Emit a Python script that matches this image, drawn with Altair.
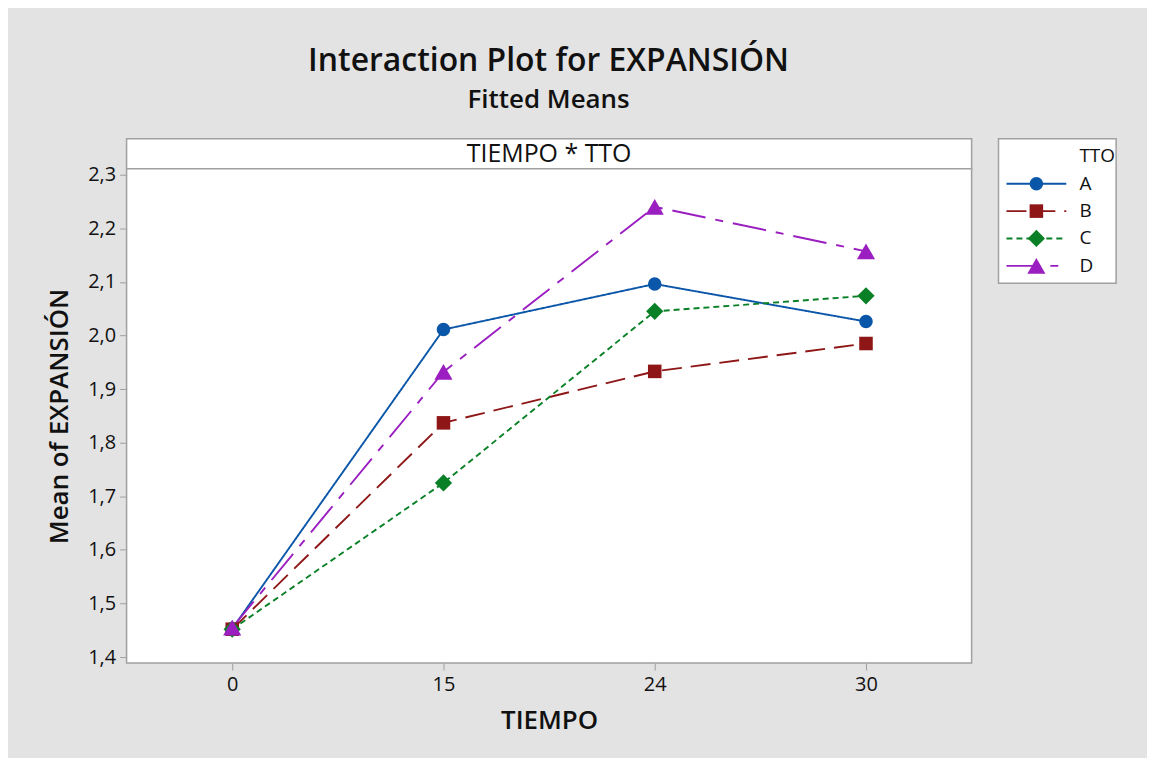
import altair as alt
import pandas as pd

tiempo = ["0", "15", "24", "30"]
tto = ["A", "B", "C", "D"]
vals_A = [1.453, 2.011, 2.096, 2.026]
vals_B = [1.452, 1.837, 1.933, 1.985]
vals_C = [1.452, 1.725, 2.045, 2.074]
vals_D = [1.455, 1.932, 2.240, 2.157]
y_ticks = [1.4, 1.5, 1.6, 1.7, 1.8, 1.9, 2.0, 2.1, 2.2, 2.3]

colors = ["#0a56a8", "#8e1616", "#0a8026", "#9a1ec0"]
shapes = ["circle", "square", "diamond", "triangle-up"]
sizes = [185, 185, 300, 330]
dashes = [[1, 0], [20, 9], [6, 4], [34, 10, 8, 10]]
legend_dashes = [[1, 0], [20, 9], [6, 4], [22, 8, 8, 8]]

FONT = "Open Sans"
BG = "#e3e3e3"
GRID = "#a0a0a0"

rows = []
for name, vals in zip(tto, [vals_A, vals_B, vals_C, vals_D]):
    for t, v in zip(tiempo, vals):
        rows.append({"TIEMPO": t, "TTO": name, "value": v})
df = pd.DataFrame(rows)

W, H = 848, 496

color_sc = alt.Scale(domain=tto, range=colors)
dash_sc = alt.Scale(domain=tto, range=dashes)

x_enc = alt.X("TIEMPO:O", sort=tiempo, scale=alt.Scale(padding=0.5),
              axis=alt.Axis(title="TIEMPO", labelAngle=0, domain=False,
                            tickColor=GRID, tickSize=7, labelFontSize=20,
                            labelColor="#111", labelPadding=5,
                            titleFontSize=26, titleFontWeight=600,
                            titlePadding=13, titleColor="#111"))
y_enc = alt.Y("value:Q", scale=alt.Scale(domain=[1.389, 2.311], nice=False, zero=False),
              axis=alt.Axis(title="Mean of EXPANSIÓN", values=y_ticks, grid=False,
                            domain=False, tickColor=GRID, tickSize=7,
                            labelExpr="replace(format(datum.value, '.1f'), '.', ',')",
                            labelFontSize=20, labelColor="#111", labelPadding=4,
                            titleFontSize=26, titleFontWeight=600,
                            titlePadding=15, titleColor="#111"))

lines = alt.Chart(df).mark_line(strokeWidth=1.9).encode(
    x=x_enc, y=y_enc,
    color=alt.Color("TTO:N", scale=color_sc, legend=None),
    strokeDash=alt.StrokeDash("TTO:N", scale=dash_sc, legend=None),
    detail="TTO:N",
)
point_layers = []
for name, col, shp, sz in zip(tto, colors, shapes, sizes):
    point_layers.append(
        alt.Chart(df).transform_filter(alt.datum.TTO == name)
        .mark_point(filled=True, opacity=1, shape=shp, size=sz, color=col)
        .encode(x=alt.X("TIEMPO:O", sort=tiempo), y="value:Q")
    )
main = alt.layer(lines, *point_layers).properties(width=W, height=H)

header_df = pd.DataFrame({"label": ["TIEMPO * TTO"]})
header = alt.Chart(header_df).mark_text(font=FONT, fontSize=25, color="#111",
                                         baseline="middle").encode(
    x=alt.value(W / 2), y=alt.value(15), text="label:N"
).properties(width=W, height=30)

left = alt.vconcat(header, main, spacing=0, bounds="flush")

# legend
leg_line = pd.DataFrame([{"TTO": t, "lx": lx} for t in tto for lx in [0.0, 1.0]])
leg_pt = pd.DataFrame([{"TTO": t, "lx": 0.5} for t in tto])
leg_txt = pd.DataFrame([{"TTO": t, "lx": 1.22, "lab": t} for t in tto] +
                       [{"TTO": "TTO", "lx": 1.22, "lab": "TTO"}])
lx_sc = alt.Scale(domain=[-0.133, 1.833])
ly_sc = alt.Scale(domain=["TTO"] + tto, padding=0.64)
lx = alt.X("lx:Q", scale=lx_sc, axis=None)
ly = alt.Y("TTO:O", scale=ly_sc, axis=None)
ll = alt.Chart(leg_line).mark_line(strokeWidth=1.9).encode(
    x=lx, y=ly,
    color=alt.Color("TTO:N", scale=color_sc, legend=None),
    strokeDash=alt.StrokeDash("TTO:N", scale=alt.Scale(domain=tto, range=legend_dashes), legend=None),
    detail="TTO:N")
leg_points = []
for name, col, shp, sz in zip(tto, colors, shapes, sizes):
    leg_points.append(
        alt.Chart(leg_pt).transform_filter(alt.datum.TTO == name)
        .mark_point(filled=True, opacity=1, shape=shp, size=sz, color=col)
        .encode(x=lx, y=ly)
    )
lt = alt.Chart(leg_txt).mark_text(font=FONT, fontSize=19, fontWeight=500, color="#111",
                                  align="left", baseline="middle").encode(
    x=lx, y=ly, text="lab:N")
legend = alt.layer(ll, *leg_points, lt).properties(width=118, height=145)

chart = alt.hconcat(left, legend, spacing=25).properties(
    title=alt.TitleParams("Interaction Plot for EXPANSIÓN", subtitle="Fitted Means",
                          anchor="middle", dx=-33, fontSize=32, fontWeight=600,
                          subtitleFontSize=26, subtitleFontWeight=600,
                          font=FONT, subtitleFont=FONT, color="#111",
                          subtitleColor="#111", offset=24, subtitlePadding=9),
    background=BG,
    padding={"left": 38, "top": 36, "right": 30, "bottom": 22},
).configure_view(stroke=GRID, strokeWidth=1.5, fill="white").configure_axis(
    labelFont=FONT, titleFont=FONT
).resolve_scale(color="independent")

chart.save("out.html", embed_options={"renderer": "svg", "actions": False})
